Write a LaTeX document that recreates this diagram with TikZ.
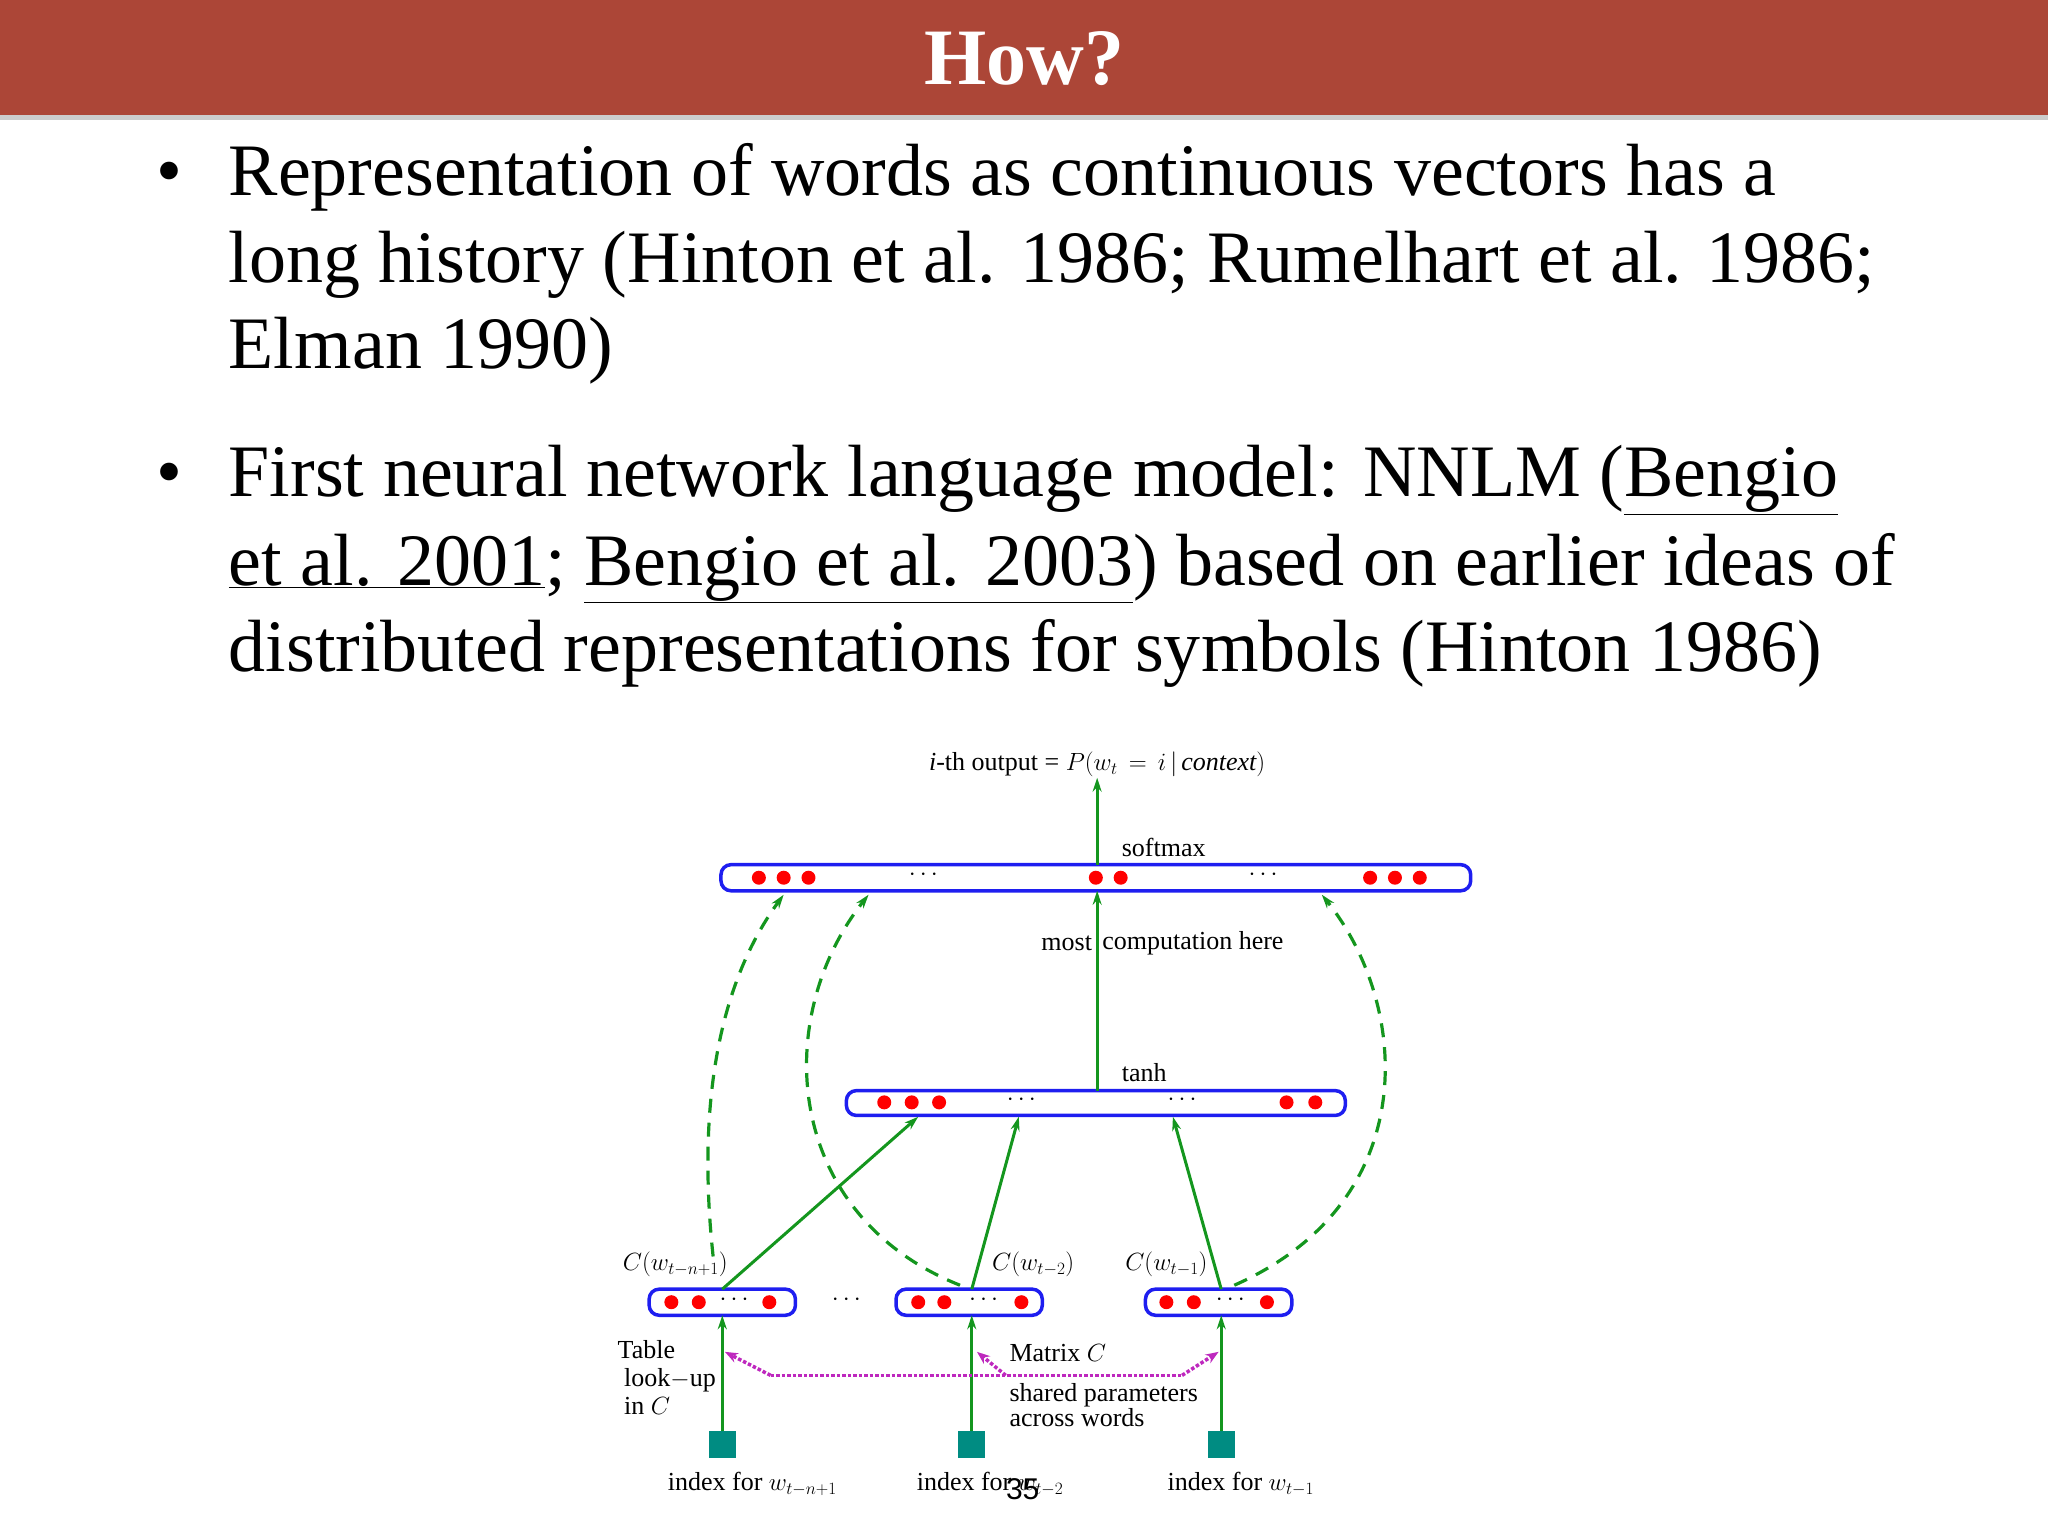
\documentclass[tikz,border=0pt]{standalone}
\usepackage{fontspec}
\setmainfont{Liberation Serif}
\newfontfamily\sanss{Liberation Sans}
\usetikzlibrary{arrows.meta}
\definecolor{bar}{RGB}{172,70,55}
\definecolor{gr}{RGB}{20,150,30}
\definecolor{bl}{RGB}{30,30,240}
\definecolor{tl}{RGB}{0,140,130}
\definecolor{mg}{RGB}{190,40,190}
\begin{document}
\begin{tikzpicture}[x=1.306pt,y=-1.306pt,
  body/.style={font=\fontsize{74}{80}\selectfont,anchor=base west,inner sep=0},
  dg/.style={font=\fontsize{26}{28}\selectfont,inner sep=1pt},
  lay/.style={draw=bl,line width=3.5pt,rounded corners=10pt},
  dot/.style={circle,fill=red,inner sep=0,minimum size=14pt},
  arr/.style={gr,line width=3pt,-{Stealth[length=14pt,width=9pt]}},
  darr/.style={gr,line width=3.2pt,dash pattern=on 14pt off 10pt,-{Stealth[length=14pt,width=9pt]}},
  marr/.style={mg,line width=3.5pt,dotted,-{Stealth[length=13pt,width=10pt]}},
  sq/.style={fill=tl,minimum size=27pt,inner sep=0}]
\useasboundingbox (0,0) rectangle (1568,1176);
\fill[bar] (0,0) rectangle (1568,88);
\fill[gray!40] (0,88) rectangle (1568,92);
\node[text=white,font=\fontsize{80}{90}\selectfont\bfseries] (title) at (784,45) {How?};
% bullets
\node[body] (b1) at (120,150) {•};
\node[body] (l1) at (175,150) {Representation of words as continuous vectors has a};
\node[body] (l2) at (175,216) {long history (Hinton et al. 1986; Rumelhart et al. 1986;};
\node[body] (l3) at (175,282) {Elman 1990)};
\node[body] (b2) at (120,380) {•};
\node[body] (l4) at (175,380) {First neural network language model: NNLM (\underline{Bengio}};
\node[body] (l5) at (175,448) {\underline{et al. 2001}; \underline{Bengio et al. 2003}) based on earlier ideas of};
\node[body] (l6) at (175,514) {distributed representations for symbols (Hinton 1986)};
% diagram
\node[dg] (out) at (840,585) {\textit{i}-th output = $P(w_t\,=\,i\,|\,\mathit{context})$};
\draw[lay] (552,662) rectangle (1126,682);
\coordinate (topc) at (840,662);
\foreach \x in {581,600,619,839,858,1049,1068,1087}{\node[dot] at (\x,672){};}
\node[dg] at (707,670){$\cdots$};\node[dg] at (967,670){$\cdots$};
\node[dg] (sm) at (891,649){softmax};
\draw[arr] (topc) -- (out.south -| topc);
\draw[lay] (648,835) rectangle (1030,854);
\coordinate (hidc) at (840,835);
\coordinate (topb) at (840,682);
\foreach \x in {677,698,719,985,1007}{\node[dot] at (\x,844){};}
\node[dg] at (782,842){$\cdots$};\node[dg] at (905,842){$\cdots$};
\node[dg] (th) at (876,821){tanh};
\draw[arr] (hidc) -- (topb);
\node[dg,anchor=east] (most) at (837,722){most};
\node[dg,anchor=west] (comp) at (843,722){computation here};
% bottom boxes
\foreach \n/\a/\b in {1/497/609,2/686/798,3/877/989}{\draw[lay] (\a,987) rectangle (\b,1007);}
\foreach \x in {514,535,589,703,723,782,893,914,970}{\node[dot] at (\x,997){};}
\foreach \x in {562,753,942}{\node[dg] at (\x,995){$\cdots$};}
\node[dg] at (648,995){$\cdots$};
\node[dg] (c1) at (517,968){$C(w_{t-n+1})$};
\node[dg] (c2) at (791,968){$C(w_{t-2})$};
\node[dg] (c3) at (893,968){$C(w_{t-1})$};
\coordinate (t1) at (553,987);\coordinate (t2) at (744,987);\coordinate (t3) at (935,987);
\coordinate (h1) at (703,855);\coordinate (h2) at (780,855);\coordinate (h3) at (898,855);
\draw[arr] (t1)--(h1);\draw[arr] (t2)--(h2);\draw[arr] (t3)--(h3);
\coordinate (d1) at (546,962);\coordinate (e1) at (600,685);
\coordinate (d2) at (735,984);\coordinate (e2) at (665,685);
\coordinate (d3) at (945,984);\coordinate (e3) at (1012,685);
\draw[darr] (d1) .. controls (535,860) and (545,760) .. (e1);
\draw[darr] (d2) .. controls (600,930) and (590,780) .. (e2);
\draw[darr] (d3) .. controls (1090,920) and (1080,770) .. (e3);
% index squares
\foreach \n/\x in {1/553,2/744,3/935}{
  \node[sq] (s\n) at (\x,1106){};
  \draw[arr] (s\n.north) -- (\x,1007);}
\node[dg] (i1) at (576,1136){index for $w_{t-n+1}$};
\node[dg] (i2) at (758,1136){index for $w_{t-2}$};
\node[dg] (i3) at (950,1136){index for $w_{t-1}$};
% magenta
\coordinate (m1) at (590,1053);\coordinate (m2) at (905,1053);\coordinate (m3) at (770,1053);
\draw[mg,line width=3.5pt,dotted] (m1)--(m2);
\draw[marr] (m1)--(555,1035);
\draw[marr] (m2)--(933,1035);
\draw[marr] (m3)--(748,1035);
\node[dg,anchor=west] (mc) at (772,1036){Matrix $C$};
\node[dg,anchor=north west,align=left,font=\fontsize{26}{25}\selectfont] (sp) at (772,1058){shared parameters\\across words};
\node[dg,anchor=north west,align=left,font=\fontsize{26}{28}\selectfont] (tab) at (472,1025){Table\\\ look$-$up\\\ in $C$};
\node[font=\sanss\fontsize{30}{30}\selectfont] (pg) at (783,1140){35};
\end{tikzpicture}
\end{document}
